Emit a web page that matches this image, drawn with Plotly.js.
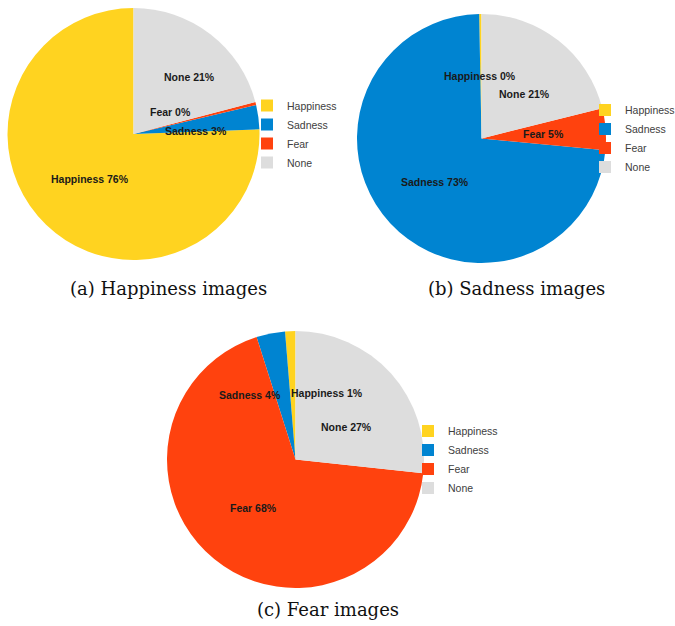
<!DOCTYPE html>
<html>
<head>
<meta charset="utf-8">
<script src="https://cdn.plot.ly/plotly-3.0.1.min.js"></script>
<style>html,body{margin:0;padding:0;background:#fff;}#chart{width:675px;height:626px;}</style>
</head>
<body>
<div id="chart"></div>
<script>
// ---- data ----
const categories = ["Happiness", "Sadness", "Fear", "None"];
const happinessImages = [75.6, 3.1, 0.4, 20.9];
const sadnessImages   = [0.3, 73.2, 5.4, 21.1];
const fearImages      = [1.3, 3.6, 68.4, 26.7];
const captions = ["(a) Happiness images", "(b) Sadness images", "(c) Fear images"];

// ---- style / layout ----
const W = 675, H = 626;
const colors = ["#FFD320", "#0084D1", "#FF420E", "#DDDDDD"];
const pies = [
  {values: happinessImages, cx: 133.5, cy: 134,   R: 126,   legendX: 247, capX: 168, capY: 288,
   labelShift: [[0, 0.50], [5, 0.50], [-17, 0.34], [7, 0.63]]},
  {values: sadnessImages,   cx: 481.5, cy: 138.5, R: 124.5, legendX: 585, capX: 516, capY: 288,
   labelShift: [[-1, 0.50], [0, 0.51], [0, 0.50], [6, 0.50]]},
  {values: fearImages,      cx: 295.5, cy: 459.5, R: 128.5, legendX: 408, capX: 328, capY: 609,
   labelShift: [[28, 0.57], [-24, 0.61], [2, 0.50], [9.6, 0.47]]}
];
const legendNames = ["legend", "legend2", "legend3"];

const traces = [];
const annotations = [];
const layout = {
  width: W, height: H,
  margin: {l: 0, r: 0, t: 0, b: 0, autoexpand: false},
  paper_bgcolor: "#fff",
  showlegend: true,
  annotations: annotations
};

pies.forEach((p, i) => {
  const total = p.values.reduce((a, b) => a + b, 0);
  traces.push({
    type: "pie",
    labels: categories,
    values: p.values,
    sort: false,
    direction: "counterclockwise",
    // first slice begins at 12 o'clock and runs counterclockwise
    rotation: -(p.values[0] / total) * 360,
    textinfo: "none",
    hoverinfo: "label+percent",
    marker: {colors: colors, line: {width: 0}},
    domain: {
      x: [(p.cx - p.R) / W, (p.cx + p.R) / W],
      y: [1 - (p.cy + p.R) / H, 1 - (p.cy - p.R) / H]
    },
    legend: legendNames[i],
    legendgroup: "g" + i,
    showlegend: true
  });
  layout[legendNames[i]] = {
    x: p.legendX / W, xanchor: "left",
    y: 1 - p.cy / H, yanchor: "middle",
    bgcolor: "rgba(0,0,0,0)",
    font: {family: "Liberation Sans, Arial, sans-serif", size: 10.5, color: "#404040"},
    traceorder: "normal"
  };
  // slice labels, placed from each slice's mid-angle (counterclockwise from 12 o'clock)
  let cum = 0;
  p.values.forEach((v, k) => {
    const start = cum, end = cum + v; cum = end;
    const midCCW = (start + end) / 2 / total * 360;
    const angCW = (360 - midCCW) + p.labelShift[k][0];
    const rad = angCW * Math.PI / 180;
    const r = p.labelShift[k][1] * p.R;
    const x = p.cx + r * Math.sin(rad);
    const y = p.cy - r * Math.cos(rad);
    annotations.push({
      xref: "paper", yref: "paper",
      x: x / W, y: 1 - y / H,
      xanchor: "center", yanchor: "middle",
      showarrow: false,
      text: categories[k] + " " + Math.round(v / total * 100) + "%",
      font: {family: "Liberation Sans, Arial, sans-serif", size: 10.5, color: "#1a1a1a", weight: "bold"}
    });
  });
  annotations.push({
    xref: "paper", yref: "paper",
    x: p.capX / W, y: 1 - p.capY / H,
    xanchor: "center", yanchor: "middle",
    showarrow: false,
    text: captions[i],
    font: {family: "DejaVu Serif, serif", size: 18, color: "#111"}
  });
});

Plotly.newPlot("chart", traces, layout, {displayModeBar: false, staticPlot: true});
</script>
</body>
</html>
